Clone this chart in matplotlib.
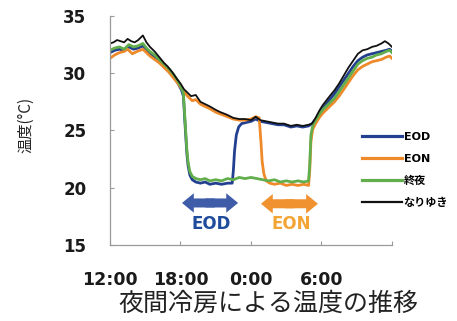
import matplotlib
matplotlib.use("Agg")
import matplotlib.pyplot as plt
from matplotlib.lines import Line2D
from matplotlib.patches import FancyArrowPatch

plt.rcParams["font.family"] = ["DejaVu Sans", "Noto Sans CJK JP"]

# hours since 12:00, temperature (degC)
eod = [(0.0, 31.8), (0.4, 32.0), (0.8, 32.1), (1.2, 32.0), (1.6, 32.3), (2.0, 32.1), (2.4, 32.2),
       (2.8, 32.4), (3.1, 32.0), (3.4, 31.7), (3.8, 31.4), (4.2, 31.0), (4.6, 30.6), (5.0, 30.2),
       (5.4, 29.7), (5.8, 29.1), (6.1, 28.5), (6.25, 28.0), (6.35, 26.2), (6.45, 24.5), (6.55, 22.9),
       (6.65, 21.9), (6.8, 21.1), (7.0, 20.7), (7.3, 20.5), (7.7, 20.4), (8.1, 20.5), (8.5, 20.3),
       (9.0, 20.4), (9.5, 20.3), (10.0, 20.4), (10.4, 20.4), (10.5, 21.5), (10.6, 23.2), (10.75, 24.6),
       (10.95, 25.3), (11.2, 25.6), (11.6, 25.7), (12.0, 25.8), (12.4, 26.0), (12.8, 25.8), (13.3, 25.7),
       (13.8, 25.6), (14.3, 25.5), (14.8, 25.5), (15.4, 25.3), (15.9, 25.4), (16.4, 25.3), (16.9, 25.4),
       (17.2, 25.6), (17.5, 26.0), (17.8, 26.5), (18.1, 26.9), (18.4, 27.3), (18.7, 27.7), (19.1, 28.2),
       (19.5, 28.8), (19.9, 29.4), (20.3, 30.0), (20.7, 30.6), (21.1, 31.1), (21.5, 31.4), (21.9, 31.6),
       (22.3, 31.7), (22.7, 31.8), (23.1, 31.9), (23.5, 32.0), (23.8, 32.1), (24.0, 31.9)]

eon = [(0.0, 31.3), (0.4, 31.6), (0.8, 31.8), (1.2, 31.9), (1.5, 32.1), (1.9, 31.7), (2.3, 31.9),
       (2.8, 32.1), (3.1, 31.8), (3.4, 31.5), (3.8, 31.2), (4.2, 30.9), (4.6, 30.5), (5.0, 30.1),
       (5.4, 29.6), (5.8, 29.1), (6.2, 28.5), (6.6, 28.0), (7.0, 27.6), (7.3, 27.7), (7.7, 27.3),
       (8.1, 27.1), (8.5, 26.9), (9.0, 26.6), (9.5, 26.4), (10.0, 26.2), (10.5, 26.0), (11.0, 25.9),
       (11.5, 25.9), (12.0, 26.0), (12.4, 26.2), (12.7, 26.1), (12.85, 24.0), (12.95, 22.3), (13.1, 21.2),
       (13.3, 20.6), (13.6, 20.4), (14.0, 20.3), (14.5, 20.4), (15.0, 20.2), (15.5, 20.3), (16.0, 20.2),
       (16.5, 20.3), (16.9, 20.2), (17.0, 21.5), (17.1, 24.0), (17.25, 25.1), (17.5, 25.6), (17.8, 26.1),
       (18.1, 26.5), (18.4, 26.8), (18.7, 27.1), (19.1, 27.5), (19.5, 28.0), (19.9, 28.6), (20.3, 29.2),
       (20.7, 29.8), (21.1, 30.3), (21.5, 30.6), (21.9, 30.8), (22.3, 31.0), (22.7, 31.1), (23.1, 31.2),
       (23.5, 31.4), (23.8, 31.5), (24.0, 31.3)]

allnight = [(0.0, 32.0), (0.4, 32.2), (0.8, 32.3), (1.2, 32.1), (1.6, 32.5), (2.0, 32.3), (2.4, 32.4),
            (2.8, 32.6), (3.1, 32.2), (3.4, 31.9), (3.8, 31.6), (4.2, 31.2), (4.6, 30.8), (5.0, 30.4),
            (5.4, 29.9), (5.8, 29.3), (6.1, 28.7), (6.25, 28.2), (6.35, 26.5), (6.45, 24.8), (6.55, 23.2),
            (6.65, 22.2), (6.8, 21.4), (7.0, 21.0), (7.3, 20.8), (7.7, 20.7), (8.1, 20.8), (8.5, 20.6),
            (9.0, 20.7), (9.5, 20.6), (10.0, 20.8), (10.5, 20.7), (11.0, 20.9), (11.5, 20.8), (12.0, 20.9),
            (12.5, 20.8), (13.0, 20.7), (13.5, 20.6), (14.0, 20.7), (14.5, 20.5), (15.0, 20.6), (15.5, 20.5),
            (16.0, 20.6), (16.5, 20.5), (16.9, 20.6), (17.0, 22.0), (17.1, 24.6), (17.25, 25.4), (17.5, 25.9),
            (17.8, 26.4), (18.1, 26.8), (18.4, 27.1), (18.7, 27.4), (19.1, 27.8), (19.5, 28.4), (19.9, 29.0),
            (20.3, 29.6), (20.7, 30.2), (21.1, 30.8), (21.5, 31.1), (21.9, 31.3), (22.3, 31.4), (22.7, 31.6),
            (23.1, 31.7), (23.5, 31.9), (23.8, 32.0), (24.0, 31.8)]

natural = [(0.0, 32.6), (0.3, 32.7), (0.6, 32.9), (0.9, 32.8), (1.2, 32.7), (1.5, 33.0), (1.8, 32.8),
           (2.1, 32.7), (2.4, 32.9), (2.8, 33.3), (3.1, 32.7), (3.4, 32.3), (3.8, 31.9), (4.2, 31.4),
           (4.6, 30.9), (4.9, 30.6), (5.3, 30.1), (5.7, 29.5), (6.0, 29.1), (6.3, 28.6), (6.6, 28.3),
           (6.9, 28.0), (7.3, 28.1), (7.7, 27.5), (8.1, 27.3), (8.5, 27.1), (9.0, 26.8), (9.4, 26.6),
           (9.9, 26.4), (10.5, 26.1), (11.0, 26.0), (11.5, 26.0), (12.0, 25.9), (12.4, 26.2), (12.8, 25.9),
           (13.3, 25.8), (13.8, 25.7), (14.3, 25.6), (14.8, 25.6), (15.4, 25.4), (15.9, 25.5), (16.4, 25.4),
           (16.9, 25.5), (17.2, 25.6), (17.5, 26.1), (17.8, 26.7), (18.1, 27.2), (18.4, 27.6), (18.7, 28.0),
           (19.1, 28.5), (19.5, 29.1), (19.9, 29.8), (20.3, 30.5), (20.7, 31.1), (21.1, 31.7), (21.5, 32.0),
           (21.9, 32.1), (22.3, 32.3), (22.7, 32.4), (23.1, 32.6), (23.4, 32.8), (23.7, 32.6), (24.0, 32.3)]

series_labels = ["EOD", "EON", "終夜", "なりゆき"]
series_colors = ["#233f8f", "#ef8a2a", "#62ad4c", "#111111"]
series_widths = [2.0, 2.0, 2.0, 1.3]

x_ticks = [0, 6, 12, 18, 24]
x_labels = ["12:00", "18:00", "0:00", "6:00", ""]
y_ticks = [15, 20, 25, 30, 35]


def main():
    fig = plt.figure(figsize=(4.57, 3.21), dpi=100)
    ax = fig.add_axes([0.2407, 0.2368, 0.617, 0.7134])

    for data, color, lw in zip([eod, eon, allnight, natural], series_colors, series_widths):
        h, t = zip(*data)
        ax.plot(h, t, color=color, linewidth=lw, solid_joinstyle="round")

    ax.set_xlim(0, 24)
    ax.set_ylim(15, 35)
    ax.set_xticks(x_ticks)
    ax.set_xticklabels(x_labels)
    ax.set_yticks(y_ticks)
    for s in ("top", "right"):
        ax.spines[s].set_visible(False)
    for s in ("left", "bottom"):
        ax.spines[s].set_color("#9a9a9a")
        ax.spines[s].set_linewidth(0.9)
    ax.tick_params(axis="both", direction="in", length=3, color="#9a9a9a", width=0.8)
    ax.tick_params(axis="x", pad=19, labelsize=12.5)
    ax.tick_params(axis="y", pad=17, labelsize=12)
    for lab in ax.get_xticklabels() + ax.get_yticklabels():
        lab.set_fontweight("bold")
        lab.set_color("#1a1a1a")

    # period arrows (two halves drawn outward from the middle, overlapping a little)
    for x0, x1, y, color in [(6.13, 10.9, 18.67, "#3f5ca9"), (12.85, 17.7, 18.6, "#f0922f")]:
        mid = (x0 + x1) / 2
        for start, end in ((mid + 0.4, x0), (mid - 0.4, x1)):
            ax.add_patch(FancyArrowPatch((start, y), (end, y),
                                         arrowstyle="simple,head_width=14,tail_width=6.5,head_length=8.5",
                                         mutation_scale=1, color=color, lw=0, shrinkA=0, shrinkB=0))
    ax.text(8.6, 16.85, "EOD", color="#1f4b9d", fontsize=12, fontweight="bold", ha="center", va="center")
    ax.text(15.4, 16.8, "EON", color="#f2a535", fontsize=12, fontweight="bold", ha="center", va="center")

    handles = [Line2D([], [], color=c, linewidth=w + 0.3) for c, w in zip(series_colors, series_widths)]
    leg = ax.legend(handles, series_labels, loc="upper left", bbox_to_anchor=(362 / 457, 1 - 132 / 321),
                    bbox_transform=fig.transFigure, frameon=False, fontsize=8, handlelength=3.6,
                    handletextpad=0.15, labelspacing=1.05, borderpad=0, borderaxespad=0)
    for txt in leg.get_texts():
        txt.set_fontweight("bold")

    fig.text(26 / 457, 1 - 125 / 321, "温度(°C)", rotation=90, ha="center", va="center",
             fontsize=11, family=["Noto Sans CJK JP", "DejaVu Sans"], color="#222222")
    fig.text(268 / 457, 1 - 304 / 321, "夜間冷房による温度の推移", ha="center", va="center",
             fontsize=18, family=["Noto Sans CJK JP", "DejaVu Sans"], color="#222222")

    fig.savefig("out.png", dpi=100)


if __name__ == "__main__":
    main()
